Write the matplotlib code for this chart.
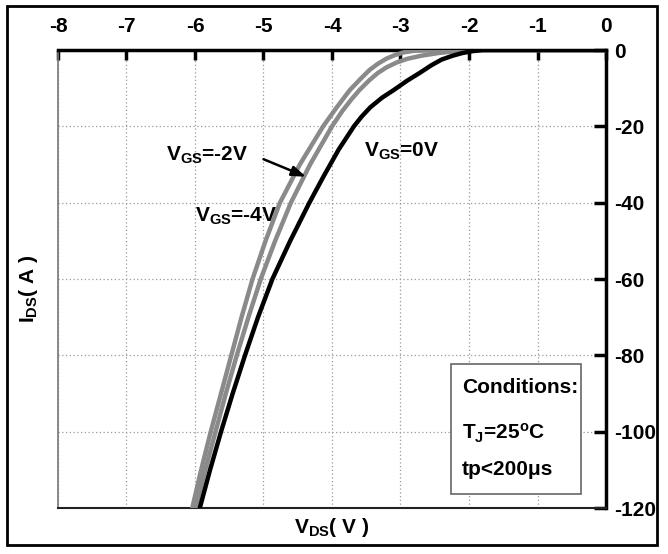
import matplotlib
matplotlib.use("Agg")
import matplotlib.pyplot as plt
from matplotlib.patches import Rectangle

plt.rcParams['font.family'] = ['Liberation Sans', 'DejaVu Sans']
plt.rcParams['font.weight'] = 'bold'
plt.rcParams['mathtext.fontset'] = 'custom'
plt.rcParams['mathtext.rm'] = 'Liberation Sans:bold'
plt.rcParams['mathtext.default'] = 'regular'

# output characteristics, I_DS vs V_DS for three gate voltages
vds_0v = [-5.93, -5.78, -5.62, -5.45, -5.27, -5.08, -4.87, -4.61, -4.33, -4.12, -3.9, -3.68,
          -3.57, -3.44, -3.27, -3.1, -2.9, -2.72, -2.55, -2.4, -2.24, -2.1, -1.95, -1.8, 0]
ids_0v = [-120, -110, -100, -90, -80, -70, -60, -50, -40, -33, -26, -20,
          -17.5, -15, -12.5, -10.5, -8, -6, -4, -2.5, -1.5, -0.8, -0.3, 0, 0]

vds_2v = [-5.99, -5.85, -5.7, -5.55, -5.39, -5.22, -5.04, -4.83, -4.6, -4.32, -4.0, -3.85,
          -3.72, -3.6, -3.46, -3.33, -3.2, -3.06, -2.9, -2.7, -2.45, -2.2, -1.95, 0]
ids_2v = [-120, -110, -100, -90, -80, -70, -60, -50, -40, -30, -20, -16,
          -13, -10.5, -8, -6, -4.5, -3.3, -2.3, -1.5, -0.8, -0.3, 0, 0]

vds_4v = [-6.04, -5.91, -5.77, -5.62, -5.47, -5.32, -5.16, -4.97, -4.76, -4.47, -4.13,
          -3.93, -3.74, -3.58, -3.45, -3.33, -3.21, -3.08, -2.95, -2.8, -2.55, 0]
ids_4v = [-120, -110, -100, -90, -80, -70, -60, -50, -40, -30, -20,
          -15, -10.5, -7.5, -5.2, -3.6, -2.3, -1.3, -0.6, -0.2, 0, 0]

xticks = [-8, -7, -6, -5, -4, -3, -2, -1, 0]
yticks = [0, -20, -40, -60, -80, -100, -120]

fig = plt.figure(figsize=(6.68, 5.54), dpi=100)
ax = fig.add_axes([0.0868, 0.083, 0.8204, 0.8267])

gray = '#8a8a8a'
ax.plot(vds_4v, ids_4v, color=gray, lw=3.2, solid_joinstyle='round', zorder=3)
ax.plot(vds_2v, ids_2v, color=gray, lw=3.2, solid_joinstyle='round', zorder=3)
ax.plot(vds_0v, ids_0v, color='black', lw=3.2, solid_joinstyle='round', zorder=4)

ax.set_xlim(-8, 0)
ax.set_ylim(-120, 0)
ax.set_xticks(xticks)
ax.set_yticks(yticks)
ax.set_xticklabels([str(v) for v in xticks], fontsize=15, fontweight='bold')
ax.set_yticklabels([str(v) for v in yticks], fontsize=15, fontweight='bold')
ax.xaxis.tick_top()
ax.yaxis.tick_right()
ax.tick_params(axis='x', direction='in', length=7, width=2.5, pad=10, colors='black')
ax.tick_params(axis='y', direction='in', length=9, width=2.5, pad=6, colors='black')

ax.grid(True, color='#999999', linestyle=(0, (1, 2)), lw=0.9)

for side in ['top', 'right']:
    ax.spines[side].set_linewidth(2.5)
    ax.spines[side].set_color('black')
ax.spines['bottom'].set_linewidth(1.5)
ax.spines['bottom'].set_color('#222222')
ax.spines['left'].set_linewidth(1.2)
ax.spines['left'].set_color('#777777')

# curve labels
ax.text(-6.43, -27.5, 'V$_{GS}$=-2V', fontsize=15, fontweight='bold', va='center', ha='left')
ax.annotate('', xy=(-4.38, -33.2), xytext=(-5.0, -28.6),
            arrowprops=dict(arrowstyle='-|>,head_length=0.7,head_width=0.25', color='black',
                            lw=1.8, mutation_scale=12, shrinkA=0, shrinkB=0))
ax.text(-6.0, -43.5, 'V$_{GS}$=-4V', fontsize=15, fontweight='bold', va='center', ha='left')
ax.text(-3.53, -26.5, 'V$_{GS}$=0V', fontsize=15, fontweight='bold', va='center', ha='left')

# conditions box
ax.add_patch(Rectangle((-2.27, -116.2), 1.91, 34.0, facecolor='white',
                       edgecolor='#666666', lw=1.2, zorder=5))
ax.text(-2.1, -88.5, 'Conditions:', fontsize=15, fontweight='bold', va='center', zorder=6)
ax.text(-2.1, -100.5, 'T$_J$=25$^o$C', fontsize=15, fontweight='bold', va='center', zorder=6)
ax.text(-2.1, -110.0, 'tp<200\u03bcs', fontsize=15, fontweight='bold', va='center', zorder=6)

fig.text(0.497, 0.048, 'V$_{DS}$( V )', fontsize=15, fontweight='bold', ha='center', va='center')
fig.text(0.042, 0.478, 'I$_{DS}$( A )', fontsize=15, fontweight='bold', ha='center', va='center',
         rotation=90)

# frame around the whole figure
fig.add_artist(Rectangle((7 / 668, 1 - 545 / 554), 650 / 668, 539 / 554, transform=fig.transFigure,
                         fill=False, edgecolor='black', lw=2))

fig.savefig('out.png', dpi=100)
